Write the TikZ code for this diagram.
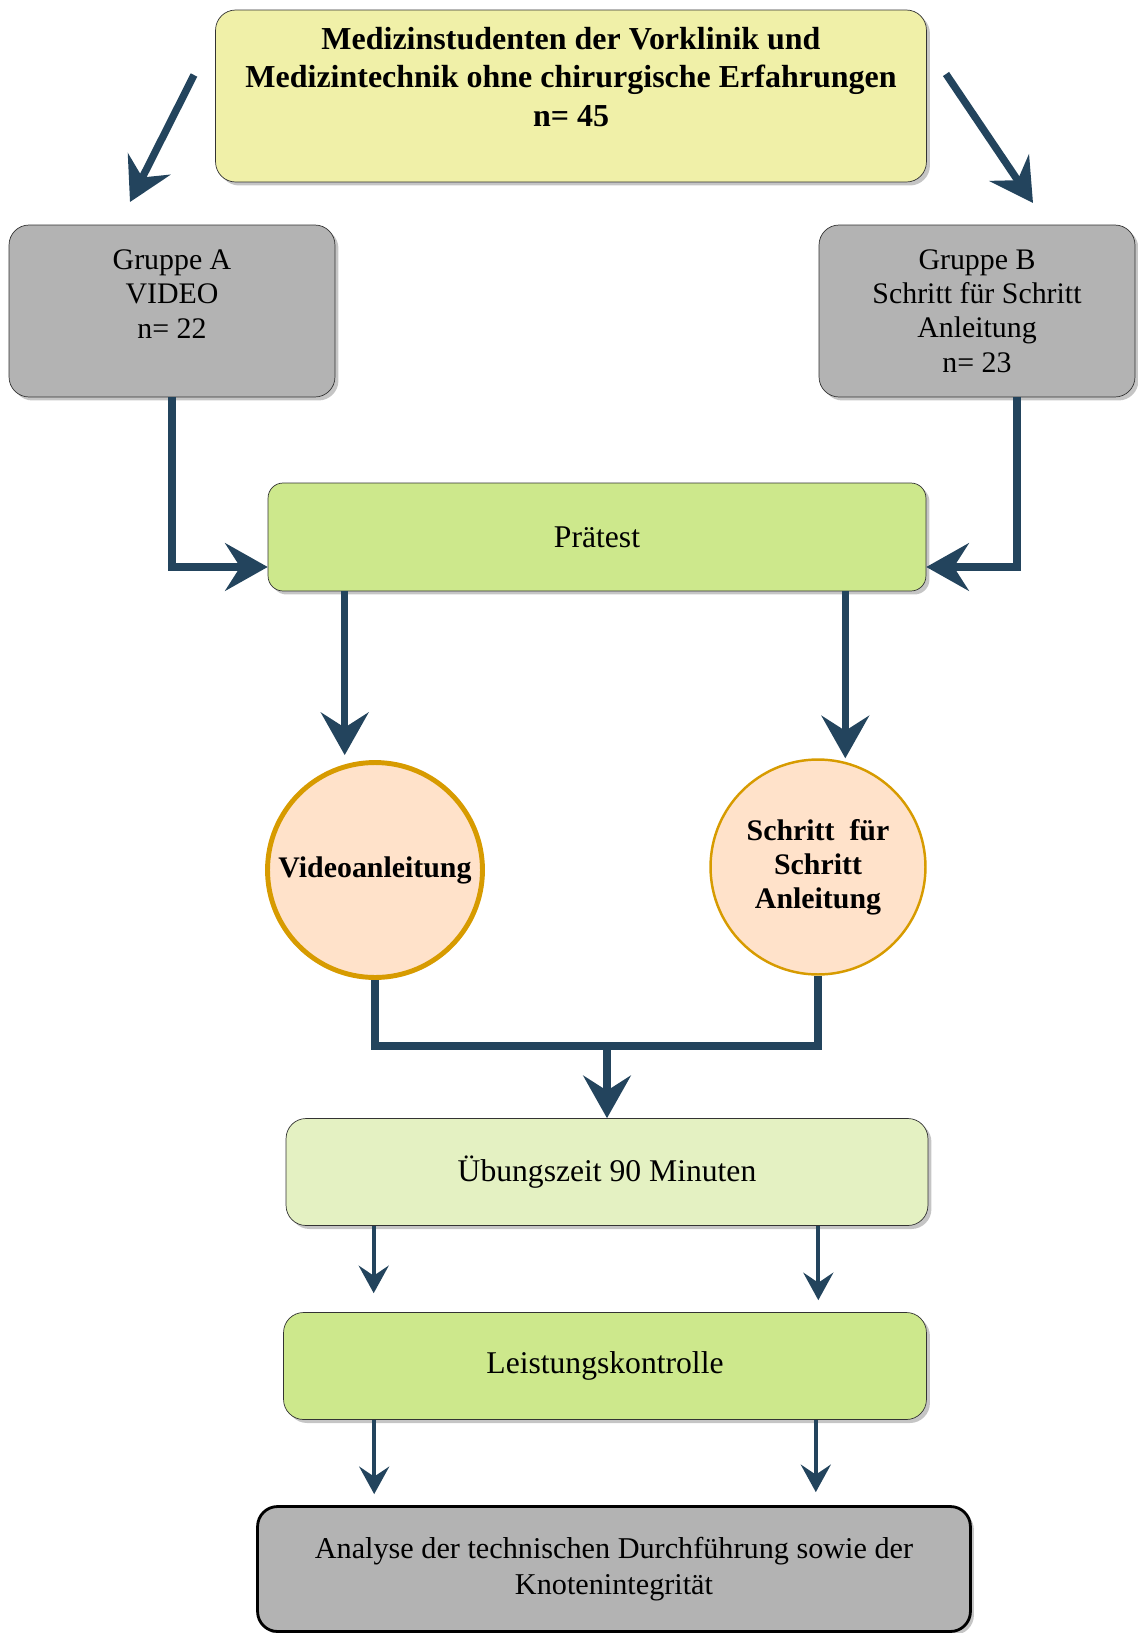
\documentclass[tikz,border=0pt]{standalone}
\usepackage{fontspec}
\setmainfont{Liberation Serif}
\usetikzlibrary{arrows.meta,shadows}

\definecolor{arrowblue}{HTML}{23445D}
\definecolor{topyellow}{HTML}{F0F0A8}
\definecolor{boxgray}{HTML}{B3B3B3}
\definecolor{testgreen}{HTML}{CDE88C}
\definecolor{lightgreen}{HTML}{E4F1C2}
\definecolor{peach}{HTML}{FFE2CA}
\definecolor{gold}{HTML}{D79B00}

\begin{document}
\begin{tikzpicture}[x=0.02cm,y=-0.02cm,
  box/.style={draw=black!80,rounded corners=0.4cm,align=center,
    font=\fontsize{18}{21.9}\selectfont,
    drop shadow={shadow xshift=0.07cm,shadow yshift=-0.07cm,fill=black!45,opacity=0.5}},
  ring/.style={circle,draw=gold,fill=peach,minimum size=4.3cm,inner sep=0pt,align=center,
    font=\bfseries\fontsize{17}{19.4}\selectfont},
  bigline/.style={draw=arrowblue,line width=4.2pt},
  bigarrow/.style={bigline,-{Stealth[length=0.85cm,width=0.95cm,inset=0.3cm]}},
  smallarrow/.style={draw=arrowblue,line width=2.3pt,-{Stealth[length=0.55cm,width=0.6cm,inset=0.2cm]}}]

\useasboundingbox (0,0) rectangle (1137,1633);

\node[box,fill=topyellow,minimum width=14.22cm,minimum height=3.44cm,
  font=\bfseries\fontsize{18.2}{21.9}\selectfont] (top) at (571,96)
  {Medizinstudenten der Vorklinik und\\Medizintechnik ohne chirurgische Erfahrungen\\n= 45\\\mbox{}};

\node[box,fill=boxgray,minimum width=6.52cm,minimum height=3.44cm,
  font=\fontsize{17}{19.6}\selectfont] (grpA) at (172,311) {Gruppe A\\VIDEO\\n= 22\\\mbox{}};
\node[box,fill=boxgray,minimum width=6.32cm,minimum height=3.44cm,
  font=\fontsize{17}{19.6}\selectfont] (grpB) at (977,311) {Gruppe B\\Schritt für Schritt\\Anleitung\\n= 23};

\node[box,fill=testgreen,rounded corners=0.3cm,minimum width=13.16cm,minimum height=2.16cm] (pretest) at (597,537) {Prätest};

\node[ring,line width=2.8pt] (vid) at (375,870) {Videoanleitung};
\node[ring,line width=1.4pt] (sfs) at (818,867) {Schritt\ \ für\\Schritt\\Anleitung};

\node[box,fill=lightgreen,minimum width=12.84cm,minimum height=2.14cm] (uebung) at (607,1172) {Übungszeit 90 Minuten};
\node[box,fill=testgreen,minimum width=12.86cm,minimum height=2.14cm] (leist) at (605,1366) {Leistungskontrolle};
\node[box,fill=boxgray,draw=black,line width=1.6pt,minimum width=14.26cm,minimum height=2.5cm,
  font=\fontsize{17.2}{20.5}\selectfont] (analyse) at (614,1569)
  {Analyse der technischen Durchführung sowie der\\Knotenintegrität};

% split into the two groups
\coordinate (aS) at (194,75);
\coordinate (aE) at (130,202);
\coordinate (bS) at (946,74);
\coordinate (bE) at (1033,203);
\draw[bigarrow] (aS) -- (aE);
\draw[bigarrow] (bS) -- (bE);

\draw[bigarrow] (grpA.south) |- ([yshift=-0.6cm]pretest.west);
\draw[bigarrow] ([xshift=0.8cm]grpB.south) |- ([yshift=-0.6cm]pretest.east);

\coordinate (pL) at ([xshift=1.54cm]pretest.south west);
\coordinate (pR) at ([xshift=-1.62cm]pretest.south east);
\draw[bigarrow,shorten >=0.1cm] (pL) -- (pL |- vid.north);
\draw[bigarrow] (pR) -- (pR |- sfs.north);

\coordinate (join) at (607,1046);
\draw[bigline] (vid.south) |- (join) -| (sfs.south);
\draw[bigarrow] (join) -- (uebung.north);

\coordinate (uL) at ([xshift=1.76cm]uebung.south west);
\coordinate (uR) at ([xshift=-2.2cm]uebung.south east);
\draw[smallarrow,shorten >=0.38cm] (uL) -- (uL |- leist.north);
\draw[smallarrow,shorten >=0.24cm] (uR) -- (uR |- leist.north);

\coordinate (lL) at ([xshift=1.82cm]leist.south west);
\coordinate (lR) at ([xshift=-2.22cm]leist.south east);
\draw[smallarrow,shorten >=0.22cm] (lL) -- (lL |- analyse.north);
\draw[smallarrow,shorten >=0.26cm] (lR) -- (lR |- analyse.north);

\end{tikzpicture}
\end{document}
